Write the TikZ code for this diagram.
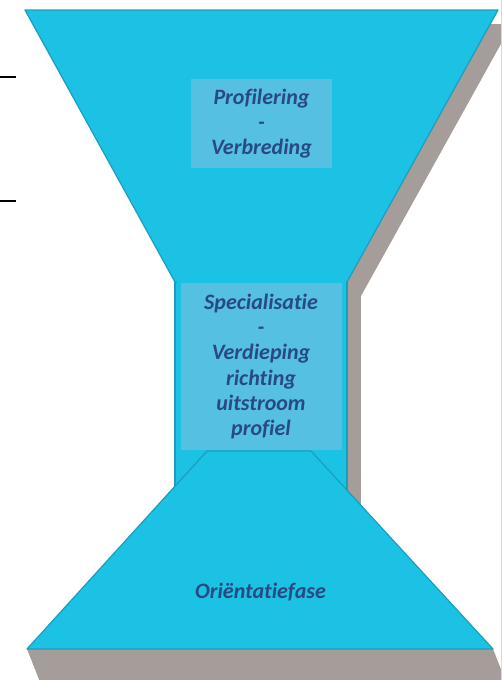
\documentclass[tikz,border=0pt]{standalone}
\usepackage{fontspec}
\setmainfont{Carlito}[Ligatures=NoCommon]
\definecolor{cyanfill}{HTML}{1CC2E4}
\definecolor{cyanedge}{HTML}{1B9EBD}
\definecolor{boxfill}{HTML}{56C0E3}
\definecolor{txtblue}{HTML}{284A82}
\definecolor{shadowgrey}{HTML}{A59D99}
\begin{document}
\begin{tikzpicture}[x=1pt,y=-1pt,
  shape fill/.style={fill=cyanfill,draw=cyanedge,line width=1.2pt,line join=round},
  shadowfill/.style={fill=shadowgrey},
  labelbox/.style={fill=boxfill,inner sep=0pt,align=center,text=txtblue,
     font=\bfseries\itshape\fontsize{22}{25.2}\selectfont},
  plainlabel/.style={inner sep=0pt,align=center,text=txtblue,
     font=\bfseries\itshape\fontsize{22}{25.2}\selectfont},
  tick/.style={line width=2pt,black}]
\useasboundingbox (0,0) rectangle (502,680);
\clip (0,0) rectangle (502,680);
% shadows
\fill[shadowfill] (39,24) -- (512,24) -- (361,296) -- (189,296) -- cycle;
\fill[shadowfill] (189,270) rectangle (361,515);
\fill[shadowfill] (27,649) -- (493,649) -- (506,682) -- (40,682) -- cycle;
% neck
\path[shape fill] (175,270) rectangle (347,505);
% top funnel
\path[shape fill] (25,10) -- (498,10) -- (347,282) -- (175,282) -- cycle;
\fill[cyanfill] (176.5,270) rectangle (345.5,290);
% bottom funnel
\path[shape fill] (207,451) -- (311,451) -- (493,649) -- (27,649) -- cycle;
% label boxes
\node[labelbox,minimum width=141pt,minimum height=89pt] (prof) at (261.5,123.5)
  {Profilering\\-\\Verbreding};
\node[labelbox,minimum width=161pt,minimum height=167pt] (spec) at (261,366.5)
  {Specialisatie\\-\\Verdieping\\richting\\uitstroom\\profiel};
\node[plainlabel] (orient) at (260.5,592) {Oriëntatiefase};
% left ticks
\coordinate (t1a) at (0,77); \coordinate (t1b) at (16,77);
\coordinate (t2a) at (0,201); \coordinate (t2b) at (16,201);
\draw[tick] (t1a) -- (t1b);
\draw[tick] (t2a) -- (t2b);
% faint right border
\coordinate (ra) at (501,0); \coordinate (rb) at (501,680);
\draw[gray!30,line width=0.8pt] (ra) -- (rb);
\end{tikzpicture}
\end{document}
